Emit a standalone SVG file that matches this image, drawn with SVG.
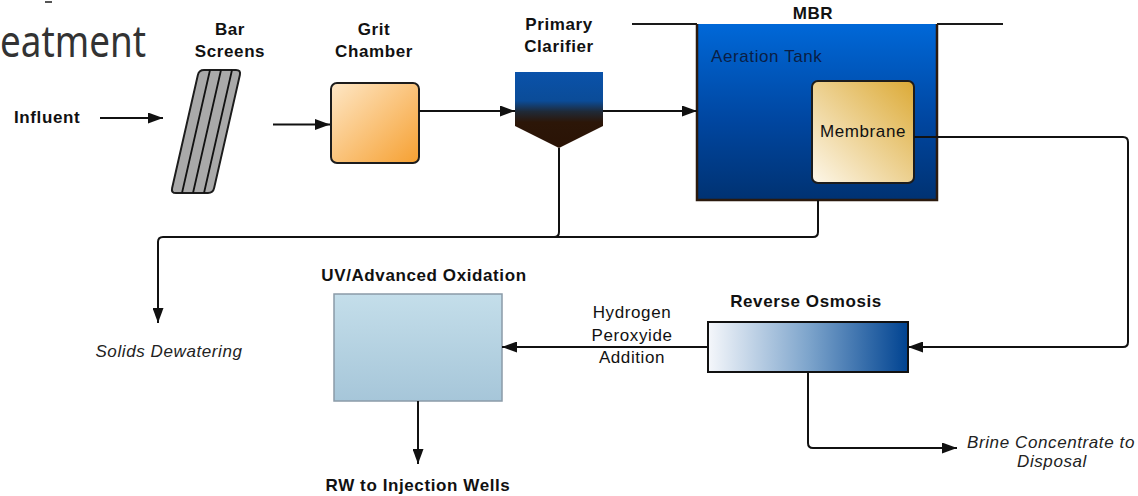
<svg xmlns="http://www.w3.org/2000/svg" width="1138" height="496" viewBox="0 0 1138 496">
  <style>
    .lbl { font-family: "Liberation Sans", Arial, sans-serif; font-size: 17px; fill: #111; letter-spacing: 0.6px; }
    .b { font-weight: bold; }
    .it { font-style: italic; fill: #222; }
    .mid { text-anchor: middle; }
    .conn { fill: none; stroke: #111; stroke-width: 2; }
    .edge { stroke: #1c1c1c; stroke-width: 2; }
  </style>
  <defs>
    <marker id="arrow" viewBox="0 0 15 11" refX="15" refY="5.5" markerWidth="15" markerHeight="11" markerUnits="userSpaceOnUse" orient="auto">
      <path d="M0,0 L15,5.5 L0,11 Z" fill="#111"/>
    </marker>
    <linearGradient id="gGrit" x1="0" y1="0" x2="1" y2="1">
      <stop offset="0" stop-color="#fee7c6"/>
      <stop offset="1" stop-color="#f6a031"/>
    </linearGradient>
    <linearGradient id="gClar" x1="0" y1="0" x2="0" y2="1">
      <stop offset="0" stop-color="#0a52aa"/>
      <stop offset="0.38" stop-color="#0b4c98"/>
      <stop offset="0.52" stop-color="#1f2a38"/>
      <stop offset="0.66" stop-color="#2c1608"/>
      <stop offset="1" stop-color="#2a1305"/>
    </linearGradient>
    <linearGradient id="gTank" x1="0" y1="0" x2="0" y2="1">
      <stop offset="0" stop-color="#0068d8"/>
      <stop offset="0.55" stop-color="#0046a0"/>
      <stop offset="1" stop-color="#003272"/>
    </linearGradient>
    <linearGradient id="gMem" x1="1" y1="0" x2="0" y2="1">
      <stop offset="0" stop-color="#dcaa36"/>
      <stop offset="1" stop-color="#fdf7ea"/>
    </linearGradient>
    <linearGradient id="gUV" x1="0" y1="0" x2="0" y2="1">
      <stop offset="0" stop-color="#c4deea"/>
      <stop offset="1" stop-color="#a6c6d9"/>
    </linearGradient>
    <linearGradient id="gRO" x1="0" y1="0" x2="1" y2="0">
      <stop offset="0" stop-color="#f5f7fb"/>
      <stop offset="0.5" stop-color="#7ea5cc"/>
      <stop offset="1" stop-color="#004391"/>
    </linearGradient>
  </defs>

  <rect width="1138" height="496" fill="#ffffff"/>

  <!-- slide heading fragment -->
  <g id="heading">
    <rect x="45" y="1" width="7" height="2" fill="#555"/>
    <text x="0" y="57" font-family="'Noto Sans', 'Open Sans', sans-serif" font-size="44" fill="#333" textLength="146" lengthAdjust="spacingAndGlyphs">eatment</text>
  </g>

  <g id="influent">
    <text class="lbl b" x="14" y="123">Influent</text>
  </g>

  <g id="bar-screens">
    <text class="lbl b mid" x="230" y="35">Bar</text>
    <text class="lbl b mid" x="230" y="57">Screens</text>
    <path d="M204,70 H236 Q241,70 239.9,74.9 L214.1,188.1 Q213,193 208,193 H176 Q171,193 172.1,188.1 L197.9,74.9 Q199,70 204,70 Z" fill="#a9a9a9" class="edge"/>
    <path d="M210,70 L182,193 M221,70 L193,193 M232,70 L204,193" stroke="#111" stroke-width="1.8" fill="none"/>
  </g>

  <g id="grit-chamber">
    <text class="lbl b mid" x="374" y="35">Grit</text>
    <text class="lbl b mid" x="374" y="57">Chamber</text>
    <rect x="331" y="83" width="88" height="80" rx="6" fill="url(#gGrit)" class="edge"/>
  </g>

  <g id="primary-clarifier">
    <text class="lbl b mid" x="559" y="30">Primary</text>
    <text class="lbl b mid" x="559" y="52">Clarifier</text>
    <path d="M515,72 H603 V126 L559,148 L515,126 Z" fill="url(#gClar)"/>
  </g>

  <g id="mbr">
    <text class="lbl b mid" x="813" y="19">MBR</text>
    <path d="M632,24 H697 M937,24 H1003" stroke="#1a1a1a" stroke-width="2" fill="none"/>
    <rect x="697" y="24" width="240" height="176" fill="url(#gTank)"/>
    <path d="M697,24 V200 H937 V24" fill="none" stroke="#2b1a0e" stroke-width="2.5"/>
    <text class="lbl" x="711" y="62" fill="#0a1e45" style="fill:#0a1e45">Aeration Tank</text>
  </g>

  <g id="membrane">
    <rect x="812" y="81" width="102" height="102" rx="6" fill="url(#gMem)" class="edge"/>
    <text class="lbl mid" x="863" y="137">Membrane</text>
  </g>

  <g id="reverse-osmosis">
    <text class="lbl b mid" x="806" y="307">Reverse Osmosis</text>
    <rect x="708" y="322" width="200" height="50" fill="url(#gRO)" stroke="#111" stroke-width="2"/>
  </g>

  <g id="uv-oxidation">
    <text class="lbl b mid" x="424" y="281">UV/Advanced Oxidation</text>
    <rect x="334" y="294" width="168" height="107" fill="url(#gUV)" stroke="#8b9ba8" stroke-width="1.5"/>
  </g>

  <g id="solids-dewatering">
    <text class="lbl it mid" x="169" y="357">Solids Dewatering</text>
  </g>

  <g id="rw-injection">
    <text class="lbl b mid" x="418" y="491">RW to Injection Wells</text>
  </g>

  <g id="brine-disposal">
    <text class="lbl it mid" x="1051" y="448">Brine Concentrate to</text>
    <text class="lbl it mid" x="1052" y="467">Disposal</text>
  </g>

  <g id="peroxide-label">
    <text class="lbl mid" x="632" y="318">Hydrogen</text>
    <text class="lbl mid" x="632" y="341">Peroxyide</text>
    <text class="lbl mid" x="632" y="363">Addition</text>
  </g>

  <g id="connectors">
    <path class="conn" d="M100,118 H163" marker-end="url(#arrow)"/>
    <path class="conn" d="M273,124.5 H330" marker-end="url(#arrow)"/>
    <path class="conn" d="M419,111 H515" marker-end="url(#arrow)"/>
    <path class="conn" d="M603,111 H697" marker-end="url(#arrow)"/>
    <path class="conn" d="M818,200 V232 Q818,237 813,237 H163 Q158,237 158,242 V323" marker-end="url(#arrow)"/>
    <path class="conn" d="M559,148 V232 Q559,237 554,237"/>
    <path class="conn" d="M914,137 H1123 Q1128,137 1128,142 V342 Q1128,347 1123,347 H908" marker-end="url(#arrow)"/>
    <path class="conn" d="M708,347 H502" marker-end="url(#arrow)"/>
    <path class="conn" d="M418,401 V464" marker-end="url(#arrow)"/>
    <path class="conn" d="M808,372 V443 Q808,448 813,448 H957" marker-end="url(#arrow)"/>
  </g>
</svg>
